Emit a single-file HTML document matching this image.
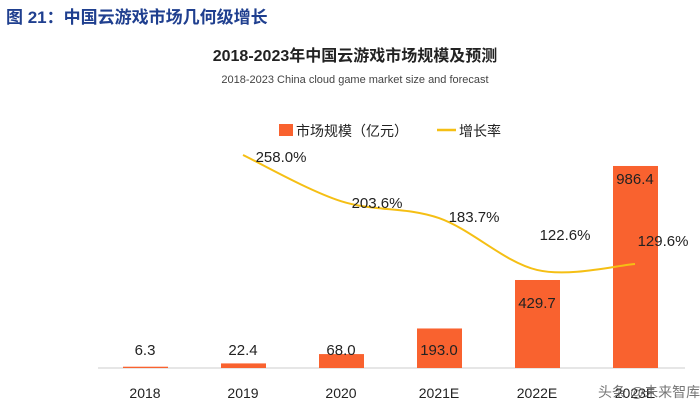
<!DOCTYPE html>
<html><head><meta charset="utf-8"><style>
body{margin:0;background:#fff;width:700px;height:410px;overflow:hidden;font-family:"Liberation Sans","Noto Sans CJK SC",sans-serif}
</style></head><body>
<svg width="700" height="410" viewBox="0 0 700 410">
<text x="6" y="23" font-size="17" font-weight="bold" fill="#1f3f8f">图 21：中国云游戏市场几何级增长</text>
<text x="355" y="61" text-anchor="middle" font-size="16" font-weight="bold" fill="#222">2018-2023年中国云游戏市场规模及预测</text>
<text x="355" y="83" text-anchor="middle" font-size="11" fill="#444">2018-2023 China cloud game market size and forecast</text>
<g>
<rect x="279" y="124" width="14" height="12" fill="#f9622f"/>
<text x="296" y="136" font-size="14" fill="#222">市场规模（亿元）</text>
<line x1="437" y1="130" x2="456" y2="130" stroke="#f5bf14" stroke-width="2.5"/>
<text x="459" y="136" font-size="14" fill="#222">增长率</text>
</g>
<line x1="98" y1="368" x2="685" y2="368" stroke="#ddd" stroke-width="1.5"/>
<g id="bars"></g><g id="line"></g><g id="labels"></g>
<text x="598" y="397" font-size="14" fill="#555" opacity="0.8">头条 @未来智库</text>
</svg>
<script>
const categories=["2018","2019","2020","2021E","2022E","2023E"];
const sizes=[6.3,22.4,68.0,193.0,429.7,986.4];
const rates=[null,258.0,203.6,183.7,122.6,129.6];
const rateLabels=["","258.0%","203.6%","183.7%","122.6%","129.6%"];
const NS="http://www.w3.org/2000/svg";
const x=i=>145+i*98;
const yb=v=>368-v*0.2048;
const yr=v=>155+(258-v)*0.849;
function mk(t,a,p){const e=document.createElementNS(NS,t);for(const k in a)e.setAttribute(k,a[k]);p.appendChild(e);return e;}
const bars=document.getElementById('bars'),lab=document.getElementById('labels'),ln=document.getElementById('line');
sizes.forEach((v,i)=>{
 const r=mk('rect',{x:x(i)-22,y:yb(v),width:45,height:368-yb(v),fill:'#f9622f'},bars);
 
 
 const ty=i==5?yb(v)+18:(i==4?yb(v)+28:355);
 const t=mk('text',{x:x(i),y:ty,'text-anchor':'middle','font-size':15,fill:'#222'},lab);
 t.textContent=v.toFixed(1);
 
 
 const c=mk('text',{x:x(i),y:398,'text-anchor':'middle','font-size':14,fill:'#222'},lab);
 c.textContent=categories[i];
 
 
});
const pts=[];rates.forEach((v,i)=>{if(v!==null)pts.push([x(i),yr(v),i]);});
let d='M'+pts[0][0]+','+pts[0][1];
for(let k=0;k<pts.length-1;k++){
 const p0=pts[Math.max(0,k-1)],p1=pts[k],p2=pts[k+1],p3=pts[Math.min(pts.length-1,k+2)];
 const c1x=p1[0]+(p2[0]-p0[0])/6,c1y=p1[1]+(p2[1]-p0[1])/6,c2x=p2[0]-(p3[0]-p1[0])/6,c2y=p2[1]-(p3[1]-p1[1])/6;
 d+=` C${c1x},${c1y} ${c2x},${c2y} ${p2[0]},${p2[1]}`;
}
const path=mk('path',{d:d,fill:'none',stroke:'#f5bf14','stroke-width':2},ln);


const offs={1:[38,7],2:[36,7],3:[35,4],4:[28,-30],5:[28,-18]};
pts.forEach(p=>{
 const i=p[2];
 const t=mk('text',{x:p[0]+offs[i][0],y:p[1]+offs[i][1],'text-anchor':'middle','font-size':15,fill:'#222'},lab);
 t.textContent=rateLabels[i];
 
 
});
</script>
</body></html>
